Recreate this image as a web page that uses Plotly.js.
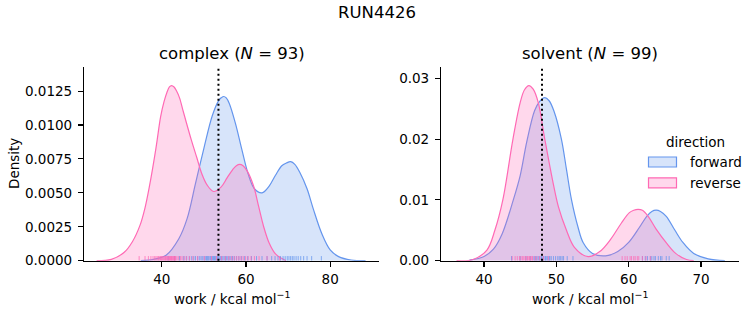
<!DOCTYPE html>
<html>
<head>
<meta charset="utf-8">
<script src="https://cdn.plot.ly/plotly-3.0.1.min.js"></script>
<style>html,body{margin:0;padding:0;background:#fff;}#chart{width:753px;height:325px;}</style>
</head>
<body>
<div id="chart"></div>
<script>
// ---- data ----
const suptitle = "RUN4426";
const phases = ["complex", "solvent"];
const phaseN = [93, 99];
const directions = ["forward", "reverse"];
const markerLines = [53.45, 48.02];   // dotted vertical line per phase

// KDE curves (work, density)
const complexFwdX = [35, 38, 41, 44, 46, 48, 50, 52, 53.5, 54.1, 54.7, 55.3, 56, 57.5, 59, 60.5, 62, 63.8, 65.5, 67, 68.5, 69.6, 70.6, 71.6, 72.8, 74.5, 76, 78, 80, 82, 85, 88.4];
const complexFwdY = [0, 0.0001, 0.0004, 0.0016, 0.0031, 0.0057, 0.0083, 0.0107, 0.0118, 0.0120, 0.0121, 0.0120, 0.0116, 0.0101, 0.0082, 0.0064, 0.0053, 0.0050, 0.0055, 0.0063, 0.0070, 0.0072, 0.0073, 0.0071, 0.0065, 0.0053, 0.0038, 0.0020, 0.0008, 0.0003, 0.00005, 0];
const complexRevX = [24.5, 28, 31, 33, 34.8, 36, 37, 38.6, 39.7, 40.5, 41.2, 41.8, 42.3, 42.9, 43.5, 44.2, 45, 45.8, 47, 48.3, 49.5, 50.7, 52.3, 54, 55.5, 56.8, 57.7, 58.5, 59.3, 60.3, 61.8, 63, 64.2, 65.5, 67, 69.5];
const complexRevY = [0, 0.0001, 0.0006, 0.0014, 0.0026, 0.0039, 0.0054, 0.0083, 0.0106, 0.0117, 0.0124, 0.0128, 0.0129, 0.0128, 0.0125, 0.0120, 0.0111, 0.0102, 0.0089, 0.0076, 0.0064, 0.0056, 0.0051, 0.0054, 0.0061, 0.0067, 0.0070, 0.0071, 0.0070, 0.0066, 0.0055, 0.0040, 0.0025, 0.0013, 0.0005, 0];
const solventFwdX = [38, 40, 41.3, 42.5, 44.05, 45, 45.9, 47, 47.7, 48.4, 49.0, 49.7, 50.7, 51.4, 52.1, 53, 53.7, 55, 56.8, 58.5, 60, 61.5, 62.5, 63.2, 63.8, 64.4, 65.2, 66.4, 67.5, 69, 71, 73.3];
const solventFwdY = [0.0001, 0.0007, 0.0019, 0.0044, 0.0100, 0.0140, 0.0195, 0.0247, 0.0262, 0.0268, 0.0263, 0.0245, 0.0200, 0.0150, 0.0100, 0.0055, 0.0030, 0.0012, 0.0008, 0.0015, 0.0030, 0.0055, 0.0073, 0.0081, 0.0083, 0.0081, 0.0073, 0.0050, 0.0030, 0.0012, 0.0003, 0];
const solventRevX = [36.2, 38.5, 40.4, 41.5, 42.6, 44, 45, 45.6, 46.2, 46.8, 47.5, 48.4, 49.6, 50.3, 51.4, 52.5, 54.4, 56, 57.5, 59, 60.1, 60.7, 61.3, 61.9, 62.7, 63.8, 65.3, 66.5, 68, 69];
const solventRevY = [0, 0.0002, 0.00175, 0.0050, 0.0100, 0.0200, 0.0260, 0.0281, 0.0288, 0.0282, 0.0260, 0.0200, 0.0125, 0.0088, 0.0050, 0.0022, 0.00066, 0.0015, 0.0035, 0.0062, 0.0079, 0.0083, 0.00845, 0.0083, 0.0073, 0.0052, 0.0028, 0.0012, 0.0002, 0];

// rug samples (work values, kcal/mol)
const complexFwdWork = [41.5, 43.0, 44.2, 45.2, 45.8, 46.5, 47.1, 47.6, 48.0, 48.5, 48.9, 49.3, 49.6, 50.0, 50.3, 50.6, 50.8, 51.0, 51.2, 51.5, 51.7, 51.9, 52.1, 52.3, 52.5, 52.7, 52.9, 53.2, 53.4, 53.6, 53.9, 54.2, 54.5, 54.8, 55.1, 55.4, 55.7, 56.0, 56.4, 56.8, 57.2, 57.7, 58.3, 58.9, 59.6, 60.4, 61.3, 62.5, 63.8, 65.0, 66.1, 66.9, 67.6, 68.2, 68.8, 69.3, 69.8, 70.2, 70.6, 71.0, 71.4, 71.9, 72.4, 73.0, 73.7, 74.5, 75.6, 77.9];
const complexRevWork = [34.6, 36.0, 36.8, 37.4, 37.9, 38.3, 38.6, 38.9, 39.2, 39.5, 39.7, 39.9, 40.1, 40.3, 40.5, 40.7, 40.9, 41.0, 41.2, 41.4, 41.5, 41.7, 41.8, 42.0, 42.1, 42.3, 42.4, 42.6, 42.7, 42.9, 43.0, 43.2, 43.3, 43.6, 44.0, 44.4, 44.8, 45.3, 45.9, 46.6, 47.4, 48.5, 50.1, 51.8, 53.0, 54.2, 55.1, 55.9, 56.6, 57.2, 57.8, 58.3, 58.8, 59.3, 59.9, 60.5, 61.2, 62.0, 63.1, 65.0, 68.0];
const solventFwdWork = [43.8, 45.0, 45.8, 46.4, 46.9, 47.1, 47.3, 47.5, 47.7, 47.9, 48.0, 48.2, 48.3, 48.5, 48.6, 48.8, 49.0, 49.1, 49.3, 49.6, 49.9, 50.2, 50.4, 50.6, 50.8, 51.0, 51.5, 52.3, 61.9, 62.3, 62.6, 63.0, 63.2, 63.5, 63.7, 64.1, 64.4, 64.6, 65.2, 65.6];
const solventRevWork = [43.9, 44.3, 44.6, 44.9, 45.1, 45.3, 45.5, 45.7, 45.8, 46.0, 46.1, 46.3, 46.4, 46.6, 46.7, 47.0, 47.3, 47.7, 48.2, 48.9, 59.1, 59.5, 59.8, 60.2, 60.4, 60.7, 60.9, 61.2, 61.4, 61.9, 62.4, 63.0];

// ---- styling ----
const W = 753, H = 325;
const FONT = "DejaVu Sans, sans-serif";
const lineCol = ["#6495ED", "#FF69B4"];
const fillCol = ["rgba(100,149,237,0.26)", "rgba(255,105,180,0.26)"];
const rugCol = ["rgba(100,149,237,0.75)", "rgba(255,105,180,0.75)"];
const xRanges = [[21.5, 91.6], [34.05, 75.3]];
const yRanges = [[0, 0.01425], [0, 0.0318]];
const px = v => v / W, py = v => 1 - v / H;

const curves = [
  [[complexFwdX, complexFwdY], [complexRevX, complexRevY]],
  [[solventFwdX, solventFwdY], [solventRevX, solventRevY]]
];
const rugs = [[complexFwdWork, complexRevWork], [solventFwdWork, solventRevWork]];

const traces = [];
for (let p = 0; p < 2; p++) {
  const xa = p === 0 ? "x" : "x2", ya = p === 0 ? "y" : "y2";
  for (let d = 0; d < 2; d++) {
    traces.push({
      type: "scatter", mode: "lines", x: curves[p][d][0], y: curves[p][d][1],
      xaxis: xa, yaxis: ya, fill: "tozeroy", fillcolor: fillCol[d],
      line: {color: lineCol[d], width: 1.2, shape: "spline", smoothing: 1},
      name: directions[d], showlegend: false, hoverinfo: "skip"
    });
  }
  const h = (yRanges[p][1] - yRanges[p][0]) * 0.024;
  for (let d = 0; d < 2; d++) {
    const rx = [], ry = [];
    rugs[p][d].forEach(v => { rx.push(v, v, null); ry.push(0, h, null); });
    traces.push({
      type: "scatter", mode: "lines", x: rx, y: ry, xaxis: xa, yaxis: ya,
      line: {color: rugCol[d], width: 1}, showlegend: false, hoverinfo: "skip", cliponaxis: false
    });
  }
}

const yDom = [64.3 / H, 257.7 / H];
const axBase = {
  showline: true, linecolor: "#000", linewidth: 1.1, ticks: "outside", ticklen: 5, tickwidth: 1.1,
  tickcolor: "#000", showgrid: false, zeroline: false, mirror: false,
  tickfont: {family: FONT, size: 13.5, color: "#000"}, fixedrange: true
};
const layout = {
  width: W, height: H, margin: {l: 0, r: 0, t: 0, b: 0},
  paper_bgcolor: "#fff", plot_bgcolor: "rgba(0,0,0,0)", showlegend: false,
  font: {family: FONT, color: "#000"},
  xaxis: Object.assign({}, axBase, {domain: [84 / W, 379 / W], range: xRanges[0], tickvals: [40, 60, 80], anchor: "y", ticklabelstandoff: 1}),
  yaxis: Object.assign({}, axBase, {domain: yDom, range: yRanges[0], tickvals: [0, 0.0025, 0.005, 0.0075, 0.01, 0.0125], tickformat: ".4f", anchor: "x", ticklabelstandoff: 3}),
  xaxis2: Object.assign({}, axBase, {domain: [441 / W, 739.3 / W], range: xRanges[1], tickvals: [40, 50, 60, 70], anchor: "y2", ticklabelstandoff: 1}),
  yaxis2: Object.assign({}, axBase, {domain: yDom, range: yRanges[1], tickvals: [0, 0.01, 0.02, 0.03], tickformat: ".2f", anchor: "x2", ticklabelstandoff: 3}),
  shapes: [],
  annotations: []
};

// dotted vertical lines
markerLines.forEach((v, p) => {
  layout.shapes.push({type: "line", xref: p === 0 ? "x" : "x2", yref: p === 0 ? "y domain" : "y2 domain",
    x0: v, x1: v, y0: 0, y1: 1, line: {color: "#000", width: 2, dash: "2px,3px"}});
});

// titles
const panelCenters = [(84 + 379) / 2, (441 + 739.3) / 2];
layout.annotations.push({text: suptitle, x: px(376.5), y: py(12), xref: "paper", yref: "paper",
  showarrow: false, xanchor: "center", yanchor: "middle", font: {family: FONT, size: 16.5, color: "#000"}});
phases.forEach((ph, p) => {
  layout.annotations.push({text: ph + " (<i>N</i> = " + phaseN[p] + ")", x: px(panelCenters[p]), y: py(53),
    xref: "paper", yref: "paper", showarrow: false, xanchor: "center", yanchor: "middle",
    font: {family: FONT, size: 16.5, color: "#000"}});
  layout.annotations.push({text: "work / kcal mol<sup>−1</sup>", x: px(panelCenters[p]), y: py(298),
    xref: "paper", yref: "paper", showarrow: false, xanchor: "center", yanchor: "middle",
    font: {family: FONT, size: 13.5, color: "#000"}});
});
layout.annotations.push({text: "Density", x: px(14), y: py(164), xref: "paper", yref: "paper",
  showarrow: false, textangle: -90, xanchor: "center", yanchor: "middle", font: {family: FONT, size: 13.5, color: "#000"}});

// legend (manual, matplotlib-style)
layout.annotations.push({text: "direction", x: px(695), y: py(141.5), xref: "paper", yref: "paper",
  showarrow: false, xanchor: "center", yanchor: "middle", font: {family: FONT, size: 13.5, color: "#000"}});
const legRowY = [162, 182.8];
directions.forEach((d, i) => {
  layout.shapes.push({type: "rect", xref: "paper", yref: "paper", x0: px(648.5), x1: px(676.5),
    y0: py(legRowY[i] - 5), y1: py(legRowY[i] + 5), fillcolor: fillCol[i], line: {color: lineCol[i], width: 1.2}});
  layout.annotations.push({text: d, x: px(688), y: py(legRowY[i]), xref: "paper", yref: "paper",
    showarrow: false, xanchor: "left", yanchor: "middle", font: {family: FONT, size: 13.5, color: "#000"}});
});

Plotly.newPlot("chart", traces, layout, {staticPlot: true, displayModeBar: false});
</script>
</body>
</html>
